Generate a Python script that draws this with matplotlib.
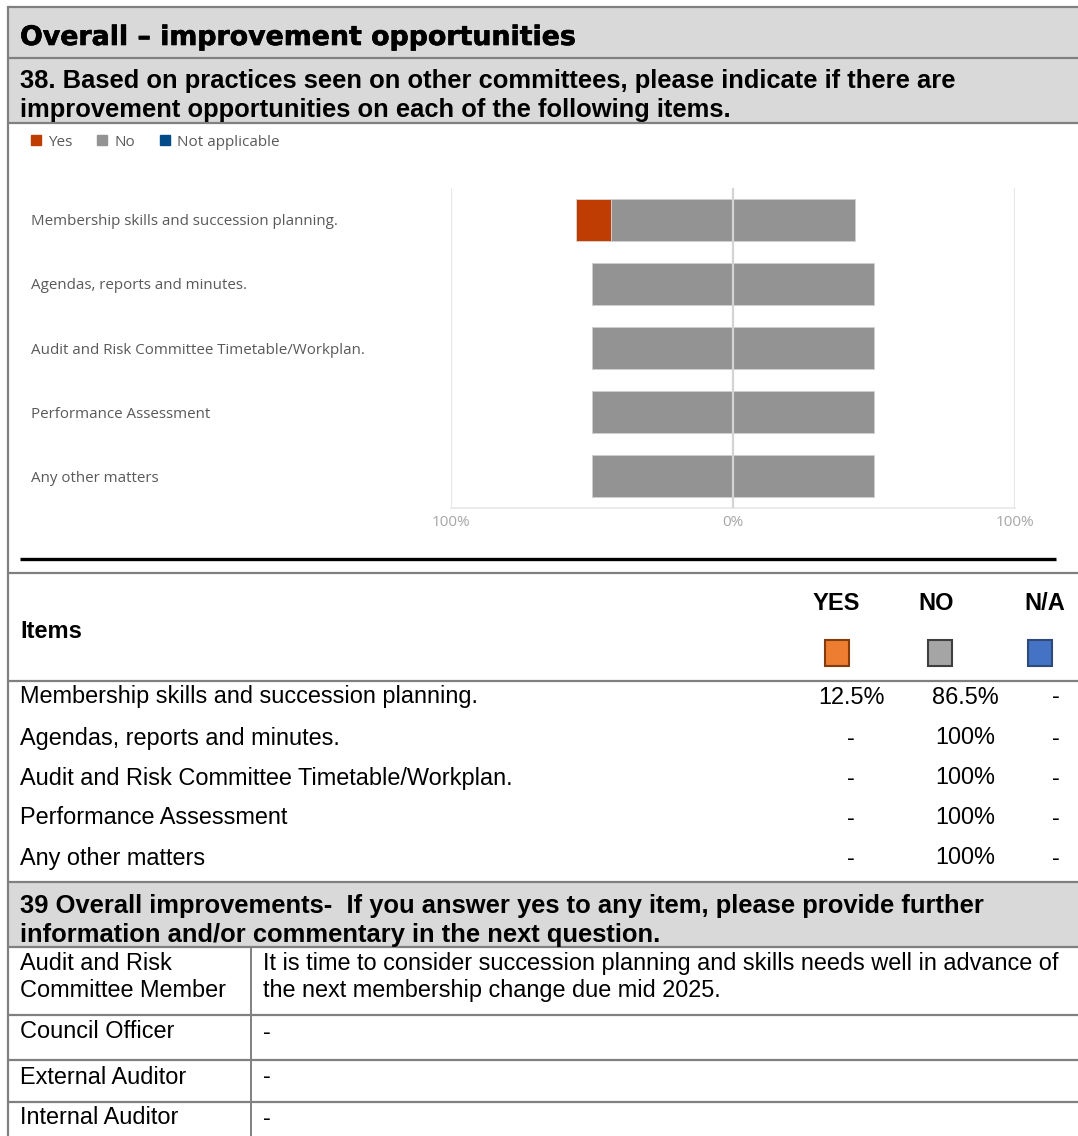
import matplotlib
matplotlib.use("Agg")
import matplotlib.pyplot as plt
import matplotlib.patheffects as pe
from matplotlib.patches import Rectangle, Patch

# ---- data ----
items = [
    "Membership skills and succession planning.",
    "Agendas, reports and minutes.",
    "Audit and Risk Committee Timetable/Workplan.",
    "Performance Assessment",
    "Any other matters",
]
yes_pct = [12.5, 0, 0, 0, 0]
no_pct = [86.5, 100, 100, 100, 100]
na_pct = [0, 0, 0, 0, 0]
series_names = ["Yes", "No", "Not applicable"]
tick_values = [-100, 0, 100]
tick_labels = ["100%", "0%", "100%"]

respondents = ["Audit and Risk\nCommittee Member", "Council Officer",
               "External Auditor", "Internal Auditor"]
comments = ["It is time to consider succession planning and skills needs well in advance of\n"
            "the next membership change due mid 2025.", "-", "-", "-"]

title = "Overall \u2013 improvement opportunities"
q38 = ("38. Based on practices seen on other committees, please indicate if there are\n"
       "improvement opportunities on each of the following items.")
q39 = ("39 Overall improvements-  If you answer yes to any item, please provide further\n"
       "information and/or commentary in the next question.")

W, H = 1078, 1136
DOC = "Liberation Sans"
CH = "Open Sans"
band = "#d9d9d9"
rule = "#808080"

fig = plt.figure(figsize=(W / 100, H / 100), dpi=100)
bg = fig.add_axes([0, 0, 1, 1])
bg.set_xlim(0, W)
bg.set_ylim(H, 0)
bg.axis("off")


def hline(y, x0=8, x1=W, lw=1.6, c=rule):
    bg.plot([x0, x1], [y, y], color=c, lw=lw, solid_capstyle="butt")


# header bands
bg.add_patch(Rectangle((8, 7), W - 8, 51, color=band, lw=0))
bg.add_patch(Rectangle((8, 58), W - 8, 65, color=band, lw=0))
bg.add_patch(Rectangle((8, 883), W - 8, 64, color=band, lw=0))
for y in (7, 58, 123, 573, 681, 882, 947, 1015, 1060, 1102):
    hline(y)
bg.plot([8, 8], [7, H], color=rule, lw=1.6)
bg.plot([251, 251], [947, H], color=rule, lw=1.4)
bg.plot([20, 1056], [559, 559], color="black", lw=2.4, solid_capstyle="butt")

bg.text(20, 38, title, fontsize=19.3, fontweight="bold", family="DejaVu Sans",
        va="center", ha="left",
        path_effects=[pe.withStroke(linewidth=0.45, foreground="black")])
bg.text(20, 95.5, q38, fontsize=18.4, fontweight="bold", family=DOC, va="center",
        ha="left", linespacing=1.24)
bg.text(20, 920.5, q39, fontsize=18.4, fontweight="bold", family=DOC, va="center",
        ha="left", linespacing=1.24)

# ---- diverging bar chart ----
ax = fig.add_axes([451 / W, 1 - 508 / H, (1015 - 451) / W, (508 - 188) / H])
rows = list(range(len(items)))
left_no = [-n / 2 for n in no_pct]
left_yes = [-n / 2 - y for n, y in zip(no_pct, yes_pct)]
left_na = [n / 2 for n in no_pct]
colors = ["#bf3d03", "#939393", "#004b87"]
bar_h = 0.67
ax.barh(rows, yes_pct, left=left_yes, height=bar_h, color=colors[0],
        edgecolor="#d8d8d8", lw=0.6, zorder=2)
ax.barh(rows, no_pct, left=left_no, height=bar_h, color=colors[1],
        edgecolor="#d0d0d0", lw=0.6, zorder=2)
ax.barh(rows, na_pct, left=left_na, height=bar_h, color=colors[2],
        lw=0, zorder=2)
ax.set_xlim(-100, 100)
ax.set_ylim(len(items) - 0.5, -0.5)
for s in ("top", "right", "left"):
    ax.spines[s].set_visible(False)
ax.spines["bottom"].set_color("#e8e8e8")
ax.spines["bottom"].set_linewidth(1.2)
for x in tick_values:
    ax.axvline(x, color="#e8e8e8" if x else "#d4d4d4", lw=1.6, zorder=3 if x == 0 else 1)
ax.set_xticks(tick_values)
ax.set_xticklabels(tick_labels, family=CH, fontsize=11, color="#a6a6a6")
ax.tick_params(axis="x", length=0, pad=5)
ax.set_yticks(rows)
ax.set_yticklabels(items, family=CH, fontsize=10.9, color="#595959", ha="left")
ax.tick_params(axis="y", length=0, pad=(451 - 31) * 0.72)

handles = [Patch(color=c) for c in colors]
fig.legend(handles, series_names, loc="center left",
           bbox_to_anchor=(31 / W, 1 - 142 / H), ncol=3, frameon=False,
           prop={"family": CH, "size": 11}, labelcolor="#595959",
           handlelength=0.65, handleheight=0.65, handletextpad=0.45,
           columnspacing=1.65, borderaxespad=0, borderpad=0)

# ---- summary table ----
col_x = [851, 965, 1056]
bg.text(20, 631, "Items", fontsize=17, fontweight="bold", family=DOC, va="center")
for x, lab in zip([836, 936, 1045], ["YES", "NO", "N/A"]):
    bg.text(x, 603, lab, fontsize=17, fontweight="bold", family=DOC,
            va="center", ha="center")
sq_face = ["#ed7d31", "#a5a5a5", "#4472c4"]
sq_edge = ["#843c0c", "#3f3f3f", "#2f4a7a"]
for x, fc, ec in zip([837, 940, 1040], sq_face, sq_edge):
    bg.add_patch(Rectangle((x - 12, 640), 24, 26, facecolor=fc, edgecolor=ec, lw=1.5))


def fmt(v):
    if v == 0:
        return "-"
    return f"{v:g}%"


row_y = [697, 738, 778, 818, 858]
for y, name, a, b, c in zip(row_y, items, yes_pct, no_pct, na_pct):
    bg.text(20, y, name, fontsize=16.9, family=DOC, va="center")
    for x, v in zip(col_x, (a, b, c)):
        bg.text(x, y, fmt(v), fontsize=16.9, family=DOC, va="center", ha="center")

# ---- comments table ----
cell_y = [977, 1032, 1077, 1118]
for y, who, txt in zip(cell_y, respondents, comments):
    bg.text(20, y, who, fontsize=16.9, family=DOC, va="center", linespacing=1.17)
    bg.text(263, y, txt, fontsize=16.9, family=DOC, va="center", linespacing=1.17)

fig.savefig("out.png", dpi=100)
